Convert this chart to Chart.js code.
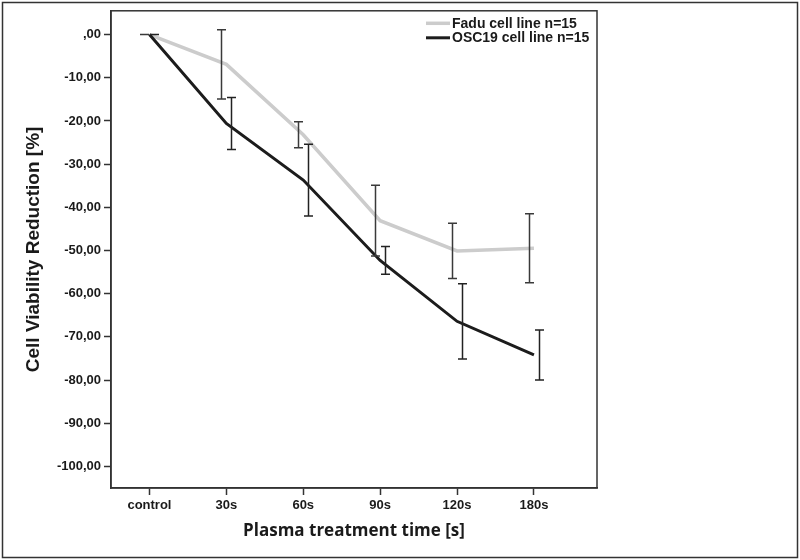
<!DOCTYPE html>
<html>
<head>
<meta charset="utf-8">
<title>Cell viability reduction</title>
<script src="https://cdn.jsdelivr.net/npm/chart.js@4.4.0/dist/chart.umd.min.js"></script>
<style>
  html, body { margin: 0; padding: 0; background: #fff; }
  #wrap { width: 800px; height: 560px; }
</style>
</head>
<body>
<div id="wrap"><canvas id="viabilityChart" width="800" height="560"></canvas></div>
<script>
// values
const categories = ["control", "30s", "60s", "90s", "120s", "180s"];
const faduMean = [0, -6.9, -23.2, -43.1, -50.1, -49.5];
const faduErr = [0, 8.0, 3.0, 8.2, 6.4, 8.0];
const oscMean = [0, -20.6, -33.7, -52.3, -66.4, -74.2];
const oscErr = [0, 6.0, 8.3, 3.2, 8.7, 5.8];
const yTicks = [0, -10, -20, -30, -40, -50, -60, -70, -80, -90, -100];
const seriesLabels = ["Fadu cell line n=15", "OSC19 cell line n=15"];

const FADU_COLOR = "#cccccc";
const OSC_COLOR = "#1c1c1c";
const INK = "#1a1a1a";

document.addEventListener("DOMContentLoaded", () => {
  const ctx = document.getElementById("viabilityChart").getContext("2d");

  const toPoints = arr => arr.map((v, i) => ({ x: i, y: v }));
  const fmtTick = v => v === 0 ? ",00" : v.toFixed(2).replace(".", ",");

  // outer frame, plot box, error bars and the legend inside the plot
  const decorations = {
    id: "decorations",
    beforeDraw(chart) {
      const c = chart.ctx;
      c.save();
      c.fillStyle = "#fff";
      c.fillRect(0, 0, chart.width, chart.height);
      c.restore();
    },
    afterDatasetsDraw(chart) {
      const c = chart.ctx;
      const { x, y } = chart.scales;
      const bars = (means, errs, shift, color) => {
        c.save();
        c.strokeStyle = color;
        c.lineWidth = 1.5;
        means.forEach((m, i) => {
          const px = Math.round(x.getPixelForValue(i + shift)) + 0.5;
          const top = y.getPixelForValue(m + errs[i]);
          const bot = y.getPixelForValue(m - errs[i]);
          c.beginPath();
          c.moveTo(px, top); c.lineTo(px, bot);
          c.moveTo(px - 4.5, top); c.lineTo(px + 4.5, top);
          c.moveTo(px - 4.5, bot); c.lineTo(px + 4.5, bot);
          c.stroke();
        });
        c.restore();
      };
      bars(faduMean, faduErr, -0.065, "#3a3a3a");
      bars(oscMean, oscErr, 0.065, "#222");
    },
    afterDraw(chart) {
      const c = chart.ctx;
      const a = chart.chartArea;
      c.save();
      c.strokeStyle = "#333";
      c.lineWidth = 1.5;
      c.strokeRect(a.left, a.top, a.right - a.left, a.bottom - a.top);
      c.strokeRect(2.5, 2.5, chart.width - 5, chart.height - 5);

      // legend
      const rows = [[FADU_COLOR, 3.5], [OSC_COLOR, 3]];
      c.font = "bold 14px 'Liberation Sans', Arial, sans-serif";
      c.textBaseline = "middle";
      c.fillStyle = INK;
      rows.forEach(([col, w], i) => {
        const yy = a.top + 12.5 + i * 14.5;
        c.strokeStyle = col;
        c.lineWidth = w;
        c.beginPath();
        c.moveTo(a.right - 171, yy);
        c.lineTo(a.right - 147, yy);
        c.stroke();
        c.fillText(seriesLabels[i], a.right - 145, yy + 0.5);
      });
      c.restore();
    }
  };

  const tickFont = { family: "'Liberation Sans', Arial, sans-serif", size: 13, weight: "bold" };

  new Chart(ctx, {
    type: "line",
    data: {
      datasets: [
        {
          label: seriesLabels[0],
          data: toPoints(faduMean),
          borderColor: FADU_COLOR,
          borderWidth: 3.5,
          pointRadius: 0,
          tension: 0,
          order: 1
        },
        {
          label: seriesLabels[1],
          data: toPoints(oscMean),
          borderColor: OSC_COLOR,
          borderWidth: 3,
          pointRadius: 0,
          tension: 0,
          order: 0
        }
      ]
    },
    options: {
      responsive: false,
      animation: false,
      devicePixelRatio: 1,
      layout: { padding: { top: 10, right: 203, left: 0, bottom: 0 } },
      plugins: {
        legend: { display: false },
        tooltip: { enabled: false }
      },
      scales: {
        x: {
          type: "linear",
          min: -0.5,
          max: 5.82,
          afterBuildTicks: s => { s.ticks = categories.map((_, i) => ({ value: i })); },
          afterFit: s => { s.height = 72; },
          ticks: {
            callback: v => categories[v],
            autoSkip: false,
            maxRotation: 0,
            font: tickFont,
            color: INK,
            padding: 3
          },
          grid: { drawOnChartArea: false, drawTicks: true, tickLength: 7, tickColor: "#333", tickWidth: 1.5 },
          border: { display: true, color: "#333", width: 1.5 },
          title: {
            display: true,
            text: "Plasma treatment time [s]",
            font: { family: "'Open Sans', sans-serif", size: 17, weight: "bold" },
            color: INK,
            padding: { top: 0, bottom: 19 }
          }
        },
        y: {
          min: -105,
          max: 5.5,
          afterBuildTicks: s => { s.ticks = yTicks.map(v => ({ value: v })); },
          afterFit: s => { s.width = 111; },
          ticks: {
            callback: v => fmtTick(v),
            font: tickFont,
            color: INK,
            padding: 3
          },
          grid: { drawOnChartArea: false, drawTicks: true, tickLength: 7, tickColor: "#333", tickWidth: 1.5 },
          border: { display: true, color: "#333", width: 1.5 },
          title: {
            display: true,
            text: "Cell Viability Reduction [%]",
            font: { family: "'Liberation Sans', Arial, sans-serif", size: 19, weight: "bold" },
            color: INK,
            padding: { top: 22, bottom: 0 }
          }
        }
      }
    },
    plugins: [decorations]
  });
});
</script>
</body>
</html>
